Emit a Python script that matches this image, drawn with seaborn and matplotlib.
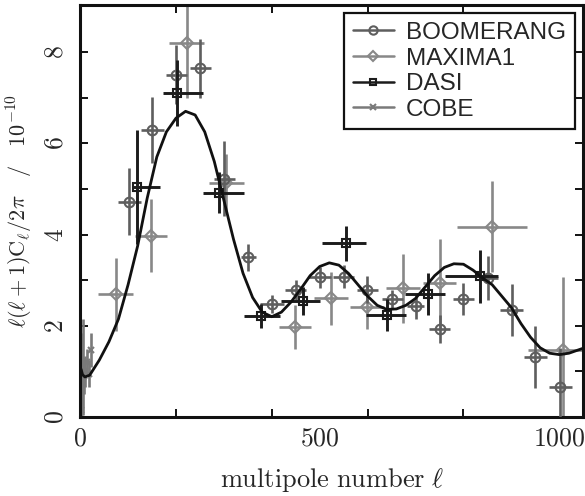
import numpy as np
import pandas as pd
import seaborn as sns
import matplotlib.pyplot as plt
from matplotlib.lines import Line2D

# values
boom_l = [103, 151, 201, 251, 301, 351, 401, 450, 500, 550, 599, 651, 700, 750, 800, 852, 901, 950, 1002]
boom_y = [4.72, 6.29, 7.50, 7.64, 5.22, 3.50, 2.48, 2.79, 3.06, 3.08, 2.79, 2.59, 2.43, 1.93, 2.58, 3.04, 2.35, 1.31, 0.66]
boom_dy = [0.73, 0.73, 0.65, 0.65, 0.82, 0.30, 0.20, 0.22, 0.24, 0.25, 0.30, 0.20, 0.27, 0.31, 0.35, 0.48, 0.57, 0.68, 0.85]
boom_dl = [23, 23, 22, 22, 22, 15, 25, 22, 24, 22, 22, 22, 17, 22, 22, 20, 24, 24, 24]

max_l = [74, 148, 222, 305, 448, 523, 599, 674, 750, 860, 1007]
max_y = [2.69, 3.97, 8.19, 5.12, 1.98, 2.60, 2.42, 2.82, 2.93, 4.17, 1.47]
max_dy = [0.80, 0.80, 1.20, 0.65, 0.48, 0.58, 0.50, 0.76, 0.97, 1.00, 1.60]
max_dl = [36, 33, 36, 36, 34, 35, 35, 35, 35, 73, 73]

dasi_l = [118, 203, 290, 378, 465, 554, 641, 727, 835]
dasi_y = [5.05, 7.10, 4.92, 2.21, 2.54, 3.81, 2.24, 2.70, 3.09]
dasi_dy = [1.25, 0.73, 0.45, 0.26, 0.31, 0.38, 0.35, 0.46, 0.58]
dasi_dl_lo = [10, 31, 33, 36, 45, 49, 44, 49, 73]
dasi_dl_hi = [49, 54, 52, 39, 35, 42, 40, 35, 38]

cobe_l = [2.1, 3.1, 4.1, 5.6, 8.0, 10.9, 14.3, 19.4, 22.0]
cobe_y = [0.15, 0.95, 0.85, 1.10, 0.90, 1.00, 1.20, 0.95, 1.47]
cobe_dy = [0.90, 0.90, 0.70, 1.05, 0.40, 0.35, 0.30, 0.30, 0.38]

curve_l = [2, 5, 10, 20, 40, 60, 80, 100, 120, 140, 160, 180, 200, 220, 240, 260, 280, 300,
           320, 340, 360, 380, 400, 420, 440, 460, 480, 500, 520, 540, 560, 580, 600, 620,
           640, 660, 680, 700, 720, 740, 760, 780, 800, 820, 840, 860, 880, 900, 920, 940,
           960, 980, 1000, 1020, 1050]
curve_y = [1.05, 0.93, 0.88, 0.92, 1.25, 1.65, 2.15, 2.90, 3.75, 4.80, 5.70, 6.25, 6.55, 6.70,
           6.62, 6.25, 5.60, 4.75, 3.90, 3.15, 2.62, 2.30, 2.20, 2.30, 2.52, 2.80, 3.10, 3.30,
           3.38, 3.33, 3.15, 2.90, 2.65, 2.45, 2.36, 2.37, 2.45, 2.60, 2.85, 3.10, 3.28, 3.36,
           3.35, 3.22, 3.05, 2.90, 2.65, 2.40, 2.05, 1.75, 1.52, 1.40, 1.37, 1.40, 1.51]

sns.set_style("ticks")
plt.rcParams['mathtext.fontset'] = 'cm'
plt.rcParams['font.family'] = ['Liberation Sans', 'DejaVu Sans']

c_boom = '#5e5e5e'
c_max = '#888888'
c_dasi = '#1c1c1c'
c_cobe = '#7a7a7a'

fig, ax = plt.subplots(figsize=(5.85, 4.96), dpi=100)
fig.subplots_adjust(left=0.137, right=0.997, bottom=0.159, top=0.99)

# the model curve
curve = pd.DataFrame({'l': curve_l, 'y': curve_y})
sns.lineplot(data=curve, x='l', y='y', color='#111111', linewidth=2.0, ax=ax, zorder=5)

ax.errorbar(cobe_l, cobe_y, yerr=cobe_dy, fmt='x', color=c_cobe, ms=4, mew=1.5,
            elinewidth=1.9, capsize=0, zorder=2)
ax.errorbar(max_l, max_y, yerr=max_dy, xerr=max_dl, fmt='D', color=c_max, mfc='none',
            ms=6, mew=1.5, elinewidth=1.9, capsize=0, zorder=2)
ax.errorbar(boom_l, boom_y, yerr=boom_dy, xerr=boom_dl, fmt='o', color=c_boom, mfc='none',
            ms=7, mew=1.5, elinewidth=1.9, capsize=0, zorder=3)
ax.errorbar(dasi_l, dasi_y, yerr=dasi_dy, xerr=[dasi_dl_lo, dasi_dl_hi], fmt='s', color=c_dasi,
            mfc='none', ms=6, mew=1.5, elinewidth=2.1, capsize=0, zorder=4)

ax.set_xlim(0, 1050)
ax.set_ylim(0, 9.03)

ax.set_xticks([0, 500, 1000], labels=[r'$0$', r'$500$', r'$1000$'])
ax.set_xticks([0, 200, 400, 600, 800, 1000], minor=True)
ax.set_yticks([0, 2, 4, 6, 8], labels=[r'$0$', r'$2$', r'$4$', r'$6$', r'$8$'])
ax.set_yticks([1, 3, 5, 7], minor=True)
for lab in ax.get_yticklabels():
    lab.set_rotation(90)
    lab.set_va('center')
ax.tick_params(axis='both', which='both', direction='in', top=True, right=True,
               labelsize=18.5, width=1.4, length=6, color='#111111')
ax.tick_params(axis='x', which='major', length=0, pad=7)
ax.tick_params(axis='y', which='major', pad=9)

for sp in ax.spines.values():
    sp.set_linewidth(2.2)
    sp.set_color('#111111')

ax.set_xlabel(r'$\mathrm{multipole\ number}\ \ell$', fontsize=19, labelpad=11)
ax.set_ylabel(r'$\ell(\ell+1)\mathrm{C}_\ell/2\pi\ \ \ /\ \ \ 10^{-10}$', fontsize=16, labelpad=6)

handles = [
    Line2D([], [], color=c_boom, marker='o', mfc='none', ms=6, mew=1.5, lw=1.8),
    Line2D([], [], color=c_max, marker='D', mfc='none', ms=5, mew=1.5, lw=1.8),
    Line2D([], [], color=c_dasi, marker='s', mfc='none', ms=5, mew=1.5, lw=1.8),
    Line2D([], [], color=c_cobe, marker='x', ms=4, mew=1.5, lw=1.8),
]
leg = ax.legend(handles, ['BOOMERANG', 'MAXIMA1', 'DASI', 'COBE'], loc='upper right',
                fontsize=17.5, frameon=True, fancybox=False, edgecolor='#111111',
                handlelength=1.7, handletextpad=0.5, labelspacing=0.15,
                borderpad=0.35, borderaxespad=0.35)
leg.get_frame().set_linewidth(1.6)
leg.get_frame().set_alpha(1)

fig.savefig('out.png', dpi=100)
